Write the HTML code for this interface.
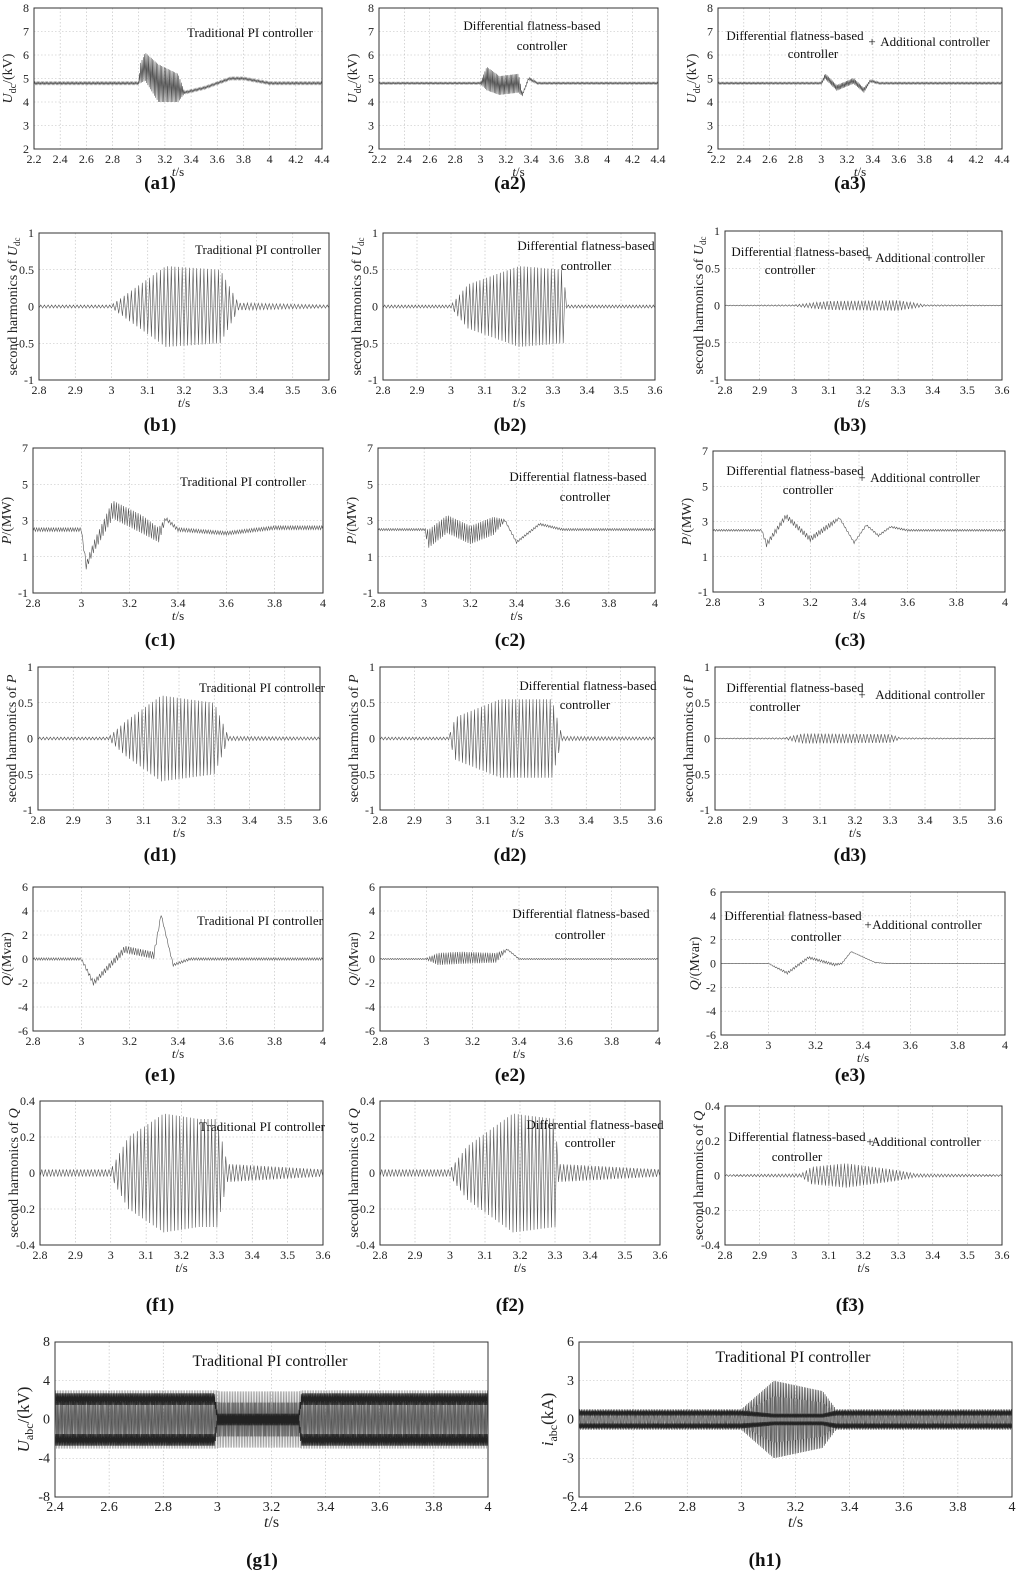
<!DOCTYPE html>
<html><head><meta charset="utf-8">
<style>
html,body{margin:0;padding:0;background:#fff;}
svg{display:block;font-family:"Liberation Serif",serif;}
</style></head>
<body>
<svg id="fig" width="1024" height="1575" viewBox="0 0 1024 1575" xmlns="http://www.w3.org/2000/svg"></svg>
<script>
// ---- data arrays (knot times, centre values, oscillation amplitudes) ----
const a1T=[2.2,3.0,3.01,3.05,3.15,3.3,3.35,3.5,3.7,3.8,4.0,4.4];
const a1C=[4.8,4.8,5.2,5.5,4.8,4.6,4.4,4.6,5.0,5.0,4.8,4.8];
const a1A=[0.05,0.05,0.4,0.6,0.8,0.6,0.05,0.05,0.05,0.05,0.05,0.05];
const a2T=[2.2,3.0,3.05,3.15,3.3,3.33,3.38,3.45,4.4];
const a2C=[4.8,4.8,5.0,4.7,4.8,4.3,5.0,4.8,4.8];
const a2A=[0.04,0.04,0.5,0.4,0.4,0.05,0.05,0.04,0.04];
const a3T=[2.2,3.0,3.03,3.12,3.25,3.33,3.38,3.45,4.4];
const a3C=[4.8,4.8,5.1,4.6,4.9,4.5,4.9,4.8,4.8];
const a3A=[0.04,0.04,0.12,0.12,0.12,0.1,0.05,0.04,0.04];
const b1T=[2.8,3.0,3.05,3.15,3.3,3.35,3.6];
const b1A=[0.02,0.02,0.2,0.55,0.5,0.05,0.02];
const b2T=[2.8,3.0,3.05,3.2,3.33,3.34,3.6];
const b2A=[0.02,0.02,0.3,0.55,0.5,0.02,0.02];
const b3T=[2.8,3.0,3.1,3.3,3.38,3.6];
const b3A=[0.005,0.01,0.06,0.07,0.01,0.005];
const c1T=[2.8,3.0,3.02,3.05,3.13,3.25,3.32,3.35,3.4,3.6,3.8,4.0];
const c1C=[2.5,2.5,0.5,1.5,3.6,2.8,2.2,3.1,2.5,2.3,2.6,2.6];
const c1A=[0.1,0.1,0.2,0.3,0.5,0.5,0.4,0.1,0.1,0.1,0.1,0.1];
const c2T=[2.8,3.0,3.02,3.1,3.2,3.3,3.35,3.4,3.5,3.6,4.0];
const c2C=[2.5,2.5,2.0,2.8,2.2,2.7,3.0,1.8,2.8,2.5,2.5];
const c2A=[0.06,0.06,0.5,0.5,0.5,0.5,0.06,0.06,0.06,0.06,0.06];
const c3T=[2.8,3.0,3.02,3.1,3.2,3.28,3.32,3.38,3.43,3.48,3.53,3.6,4.0];
const c3C=[2.5,2.5,1.7,3.3,2.0,2.8,3.2,1.8,2.8,2.2,2.7,2.5,2.5];
const c3A=[0.05,0.05,0.15,0.15,0.15,0.15,0.05,0.05,0.05,0.05,0.05,0.05,0.05];
const d1T=[2.8,3.0,3.05,3.15,3.3,3.34,3.6];
const d1A=[0.02,0.02,0.25,0.6,0.5,0.03,0.02];
const d2T=[2.8,3.0,3.02,3.15,3.3,3.33,3.6];
const d2A=[0.02,0.02,0.3,0.55,0.55,0.03,0.02];
const d3T=[2.8,3.0,3.05,3.3,3.33,3.6];
const d3A=[0.005,0.01,0.07,0.06,0.01,0.005];
const e1T=[2.8,3.0,3.05,3.18,3.3,3.33,3.38,3.45,4.0];
const e1C=[0,0,-2,0.8,0.3,3.7,-0.5,0,0];
const e1A=[0.1,0.1,0.2,0.3,0.3,0.1,0.1,0.1,0.1];
const e2T=[2.8,3.0,3.05,3.15,3.3,3.35,3.4,4.0];
const e2C=[0,0,0,0.1,0.1,0.8,0,0];
const e2A=[0.05,0.05,0.5,0.5,0.4,0.05,0.05,0.05];
const e3T=[2.8,3.0,3.08,3.17,3.28,3.31,3.35,3.45,3.5,4.0];
const e3C=[0,0,-0.8,0.5,-0.1,0,1.0,0.1,0,0];
const e3A=[0.02,0.02,0.1,0.1,0.1,0.05,0.02,0.02,0.02,0.02];
const f1T=[2.8,3.0,3.05,3.15,3.25,3.3,3.33,3.6];
const f1A=[0.02,0.02,0.2,0.33,0.3,0.3,0.05,0.02];
const f2T=[2.8,3.0,3.05,3.18,3.3,3.31,3.6];
const f2A=[0.02,0.02,0.15,0.33,0.3,0.05,0.02];
const f3T=[2.8,3.02,3.05,3.15,3.3,3.35,3.6];
const f3A=[0.005,0.01,0.05,0.07,0.03,0.01,0.005];
const g1T=[2.4,3.0,3.01,3.3,3.31,4.0];
const g1A=[3.0,3.0,2.9,2.9,3.0,3.0];
const g1BandT=[2.4,2.99,3.0,3.3,3.31,4.0];
const g1BandUp=[2.1,2.1,0.2,0.2,2.1,2.1];
const g1BandLo=[-2.1,-2.1,-0.2,-0.2,-2.1,-2.1];
const g1BandA=[0.6,0.6,0.4,0.4,0.6,0.6];
const h1T=[2.4,3.0,3.12,3.3,3.35,4.0];
const h1A=[0.8,0.8,3.0,2.2,0.8,0.8];
const h1BandT=[2.4,3.0,3.12,3.3,3.35,4.0];
const h1BandUp=[0.5,0.5,0.3,0.3,0.5,0.5];
const h1BandLo=[-0.5,-0.5,-0.3,-0.3,-0.5,-0.5];
const h1BandA=[0.2,0.2,0.15,0.15,0.2,0.2];

const NS='http://www.w3.org/2000/svg';
const svg=document.getElementById('fig');
function mk(tag,attrs,parent){const e=document.createElementNS(NS,tag);for(const k in attrs)e.setAttribute(k,attrs[k]);(parent||svg).appendChild(e);return e;}
function interp(T,V,t){if(t<=T[0])return V[0];for(let i=1;i<T.length;i++){if(t<=T[i]){const f=(t-T[i-1])/(T[i]-T[i-1]);return V[i-1]+f*(V[i]-V[i-1]);}}return V[V.length-1];}
function ticks(a,b,s){const r=[];const n=Math.round((b-a)/s);for(let i=0;i<=n;i++)r.push(Math.round((a+i*s)*100)/100);return r;}

function panel(id,box,xr,xs,yr,ys,ylab,series,ann,fs){
  const g=mk('g',{});
  
  
  const [L,T,R,B]=box;
  const X=t=>L+(t-xr[0])/(xr[1]-xr[0])*(R-L);
  const Y=v=>B-(v-yr[0])/(yr[1]-yr[0])*(B-T);
  const xt=ticks(xr[0],xr[1],xs), yt=ticks(yr[0],yr[1],ys);
  xt.forEach(v=>{const l=mk('line',{x1:X(v),x2:X(v),y1:T,y2:B,stroke:'#bbb','stroke-width':0.6,'stroke-dasharray':'1.5,2'},g);
    
    
    const tx=mk('text',{x:X(v),y:B+14,'font-size':fs?14:12,'text-anchor':'middle',fill:'#222'},g);tx.textContent=String(v);
    
    });
  yt.forEach(v=>{const l=mk('line',{x1:L,x2:R,y1:Y(v),y2:Y(v),stroke:'#bbb','stroke-width':0.6,'stroke-dasharray':'1.5,2'},g);
    
    
    const tx=mk('text',{x:L-5,y:Y(v)+4,'font-size':fs?14:12,'text-anchor':'end',fill:'#222'},g);tx.textContent=String(v);
    
    });
  series.forEach(s=>{
    let d='';const step=1/(2*s.f);let k=0;
    for(let t=xr[0];t<=xr[1]+1e-9;t+=step,k++){
      const c=s.C?interp(s.T,s.C,t):0;const a=interp(s.T,s.A,t);
      const v=c+(k%2?a:-a)*(s.ph||1);
      d+=(k?'L':'M')+X(t).toFixed(1)+','+Y(v).toFixed(1);
    }
    const p=mk('path',{d:d,fill:'none',stroke:s.col||'#555','stroke-width':s.w||0.6},g);
    
    
  });
  const fr=mk('rect',{x:L,y:T,width:R-L,height:B-T,fill:'none',stroke:'#333','stroke-width':1},g);
  
  
  const xl=mk('text',{x:(L+R)/2,y:B+(fs?30:27),'font-size':fs?16:13,'text-anchor':'middle',fill:'#222'},g);
  xl.innerHTML='<tspan font-style="italic">t</tspan>/s';
  
  
  const yl=mk('text',{x:0,y:0,'font-size':fs?17:14,'text-anchor':'middle',fill:'#222',transform:`translate(${L-(fs?26:22)},${(T+B)/2}) rotate(-90)`},g);
  yl.innerHTML=ylab;
  
  
  ann.forEach(a=>{const t=mk('text',{x:a[0],y:a[1],'font-size':fs?16:13,'text-anchor':'middle',fill:'#111'},g);t.textContent=a[2];
    
    });
}
function cap(x,y,s){const t=mk('text',{x:x,y:y,'font-size':19,'font-weight':'bold','text-anchor':'middle',fill:'#111'});t.textContent=s;
  
  }

const UDC='<tspan font-style="italic">U</tspan><tspan font-size="10" dy="4">dc</tspan><tspan dy="-4">/(kV)</tspan>';
const SHU='second harmonics of <tspan font-style="italic">U</tspan><tspan font-size="9" dy="3">dc</tspan>';
const SHP='second harmonics of <tspan font-style="italic">P</tspan>';
const SHQ='second harmonics of <tspan font-style="italic">Q</tspan>';
const PL='<tspan font-style="italic">P</tspan>/(MW)';
const QL='<tspan font-style="italic">Q</tspan>/(Mvar)';
const TPI='Traditional PI controller', DF='Differential flatness-based', CT='controller', AD='Additional controller';

panel('a1',[34,8,322,149],[2.2,4.4],0.2,[2,8],1,UDC,[{T:a1T,C:a1C,A:a1A,f:100}],[[250,37,TPI]]);
panel('a2',[379,8,658,149],[2.2,4.4],0.2,[2,8],1,UDC,[{T:a2T,C:a2C,A:a2A,f:100}],[[532,30,DF],[542,50,CT]]);
panel('a3',[718,8,1002,149],[2.2,4.4],0.2,[2,8],1,UDC,[{T:a3T,C:a3C,A:a3A,f:100}],[[795,40,DF],[813,58,CT],[872,46,'+'],[935,46,AD]]);
panel('b1',[39,233,329,380],[2.8,3.6],0.1,[-1,1],0.5,SHU,[{T:b1T,A:b1A,f:100}],[[258,254,TPI]]);
panel('b2',[383,233,655,380],[2.8,3.6],0.1,[-1,1],0.5,SHU,[{T:b2T,A:b2A,f:100}],[[586,250,DF],[586,270,CT]]);
panel('b3',[725,231,1002,380],[2.8,3.6],0.1,[-1,1],0.5,SHU,[{T:b3T,A:b3A,f:100}],[[800,256,DF],[790,274,CT],[869,262,'+'],[930,262,AD]]);
panel('c1',[33,448,323,593],[2.8,4],0.2,[-1,7],2,PL,[{T:c1T,C:c1C,A:c1A,f:100}],[[243,486,TPI]]);
panel('c2',[378,448,655,593],[2.8,4],0.2,[-1,7],2,PL,[{T:c2T,C:c2C,A:c2A,f:100}],[[578,481,DF],[585,501,CT]]);
panel('c3',[713,451,1005,592],[2.8,4],0.2,[-1,7],2,PL,[{T:c3T,C:c3C,A:c3A,f:100}],[[795,475,DF],[808,494,CT],[862,482,'+'],[925,482,AD]]);
panel('d1',[38,667,320,810],[2.8,3.6],0.1,[-1,1],0.5,SHP,[{T:d1T,A:d1A,f:100}],[[262,692,TPI]]);
panel('d2',[380,667,655,810],[2.8,3.6],0.1,[-1,1],0.5,SHP,[{T:d2T,A:d2A,f:100}],[[588,690,DF],[585,709,CT]]);
panel('d3',[715,667,995,810],[2.8,3.6],0.1,[-1,1],0.5,SHP,[{T:d3T,A:d3A,f:100}],[[795,692,DF],[775,711,CT],[862,699,'+'],[930,699,AD]]);
panel('e1',[33,887,323,1031],[2.8,4],0.2,[-6,6],2,QL,[{T:e1T,C:e1C,A:e1A,f:100}],[[260,925,TPI]]);
panel('e2',[380,887,658,1031],[2.8,4],0.2,[-6,6],2,QL,[{T:e2T,C:e2C,A:e2A,f:100}],[[581,918,DF],[580,939,CT]]);
panel('e3',[721,892,1005,1035],[2.8,4],0.2,[-6,6],2,QL,[{T:e3T,C:e3C,A:e3A,f:100}],[[793,920,DF],[816,941,CT],[868,929,'+'],[927,929,AD]]);
panel('f1',[40,1101,323,1245],[2.8,3.6],0.1,[-0.4,0.4],0.2,SHQ,[{T:f1T,A:f1A,f:100}],[[262,1131,TPI]]);
panel('f2',[380,1101,660,1245],[2.8,3.6],0.1,[-0.4,0.4],0.2,SHQ,[{T:f2T,A:f2A,f:100}],[[595,1129,DF],[590,1147,CT]]);
panel('f3',[725,1106,1002,1245],[2.8,3.6],0.1,[-0.4,0.4],0.2,SHQ,[{T:f3T,A:f3A,f:100}],[[797,1141,DF],[797,1161,CT],[870,1146,'+'],[926,1146,AD]]);
panel('g1',[55,1342,488,1497],[2.4,4],0.2,[-8,8],4,'<tspan font-style="italic">U</tspan><tspan font-size="12" dy="4">abc</tspan><tspan dy="-4">/(kV)</tspan>',
  [{T:g1T,A:g1A,f:170,col:'#888',w:0.6},{T:g1T,A:g1A,f:230,col:'#555',w:0.5,ph:0.6},
   {T:g1BandT,C:g1BandUp,A:g1BandA,f:260,col:'#222',w:0.7},{T:g1BandT,C:g1BandLo,A:g1BandA,f:260,col:'#222',w:0.7}],[[270,1366,TPI]],true);
panel('h1',[579,1342,1012,1497],[2.4,4],0.2,[-6,6],3,'<tspan font-style="italic">i</tspan><tspan font-size="12" dy="4">abc</tspan><tspan dy="-4">(kA)</tspan>',
  [{T:h1T,A:h1A,f:170,col:'#333',w:0.6},{T:h1T,A:h1A,f:230,col:'#888',w:0.5,ph:0.6},
   {T:h1BandT,C:h1BandUp,A:h1BandA,f:260,col:'#222',w:0.7},{T:h1BandT,C:h1BandLo,A:h1BandA,f:260,col:'#222',w:0.7}],[[793,1362,TPI]],true);

[['(a1)',160,189],['(a2)',510,189],['(a3)',850,189],
 ['(b1)',160,431],['(b2)',510,431],['(b3)',850,431],
 ['(c1)',160,646],['(c2)',510,646],['(c3)',850,646],
 ['(d1)',160,861],['(d2)',510,861],['(d3)',850,861],
 ['(e1)',160,1081],['(e2)',510,1081],['(e3)',850,1081],
 ['(f1)',160,1311],['(f2)',510,1311],['(f3)',850,1311],
 ['(g1)',262,1566],['(h1)',765,1566]].forEach(c=>cap(c[1],c[2],c[0]));
</script>
</body></html>
